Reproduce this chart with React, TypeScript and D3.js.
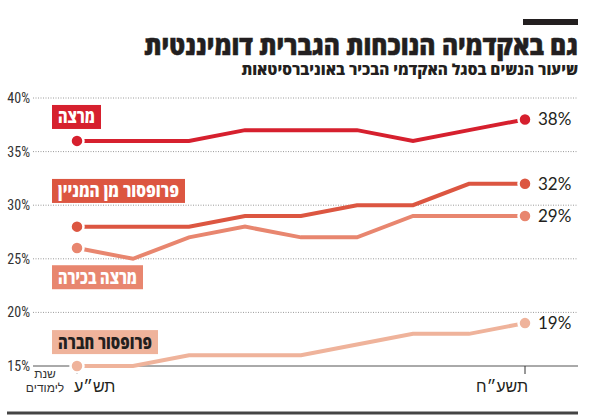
import { useEffect, useRef } from "react"
import * as d3 from "d3"

// שנים (תש"ע - תשע"ח)
const years = ["תש״ע", "תשע״א", "תשע״ב", "תשע״ג", "תשע״ד", "תשע״ה", "תשע״ו", "תשע״ז", "תשע״ח"]
const shownYears = ["תש״ע", "תשע״ח"]

const seriesNames = ["מרצה", "פרופסור מן המניין", "מרצה בכירה", "פרופסור חברה"]
const lecturer = [36, 36, 36, 37, 37, 37, 36, 37, 38]
const fullProfessor = [28, 28, 28, 29, 29, 30, 30, 32, 32]
const seniorLecturer = [26, 25, 27, 28, 27, 27, 29, 29, 29]
const associateProfessor = [15, 15, 16, 16, 16, 17, 18, 18, 19]
const seriesValues = [lecturer, fullProfessor, seniorLecturer, associateProfessor]

const yTicks = [15, 20, 25, 30, 35, 40]

const colors = ["#d6202e", "#dc5641", "#e8866f", "#efb39b"]
// מיקום תוויות המקרא (החלק העליון של התיבה, באחוזים על ציר y)
const labelBoxes = [
  { top: 39.35, w: 49 },
  { top: 32.45, w: 133 },
  { top: 24.4, w: 91 },
  { top: 18.35, w: 106 },
]

const title = "גם באקדמיה הנוכחות הגברית דומיננטית"
const subtitle = "שיעור הנשים בסגל האקדמי הבכיר באוניברסיטאות"

// דוחס טקסט לרוחב נתון
function fitWidth(t: any, ax: number, ay: number, width: number) {
  const node = t.node() as SVGTextElement | null
  if (!node) return
  const natural = node.getComputedTextLength()
  const sx = width / natural
  t.attr("transform", `translate(${ax},${ay}) scale(${sx},1)`)
}

export default function App() {
  const svgRef = useRef<SVGSVGElement>(null)

  useEffect(() => {
    document.body.style.margin = "0"
    if (!svgRef.current) return
    const svg = d3.select(svgRef.current)
    svg.selectAll("*").remove()

    const W = 590
    const H = 418
    const x = d3.scaleLinear().domain([0, years.length - 1]).range([77, 525])
    const y = d3.scaleLinear().domain([15, 40]).range([366, 98])
    const gridLeft = 33
    const gridRight = 578
    const heb = "'Open Sans', 'DejaVu Sans', sans-serif"
    const narrow = "'Liberation Sans Narrow', 'Roboto Condensed', Roboto, sans-serif"

    svg.append("rect").attr("width", W).attr("height", H).attr("fill", "#fff")

    // כותרת
    svg.append("rect").attr("x", 523).attr("y", 19).attr("width", 55).attr("height", 6).attr("fill", "#231f20")
    const titleText = svg
      .append("text")
      .attr("text-anchor", "end")
      .style("font-family", heb)
      .style("font-weight", "800")
      .style("font-size", "27px")
      .attr("fill", "#231f20")
      .attr("stroke", "#231f20")
      .attr("stroke-width", 0.5)
      .text(title)
    fitWidth(titleText, gridRight, 55, 434)
    const subText = svg
      .append("text")
      .attr("text-anchor", "end")
      .style("font-family", heb)
      .style("font-weight", "800")
      .style("font-size", "15px")
      .attr("fill", "#231f20")
      .text(subtitle)
    fitWidth(subText, gridRight, 75, 337)

    // קווי רשת
    yTicks.forEach((t) => {
      svg
        .append("line")
        .attr("x1", gridLeft)
        .attr("x2", gridRight)
        .attr("y1", y(t))
        .attr("y2", y(t))
        .attr("stroke", t === 15 ? "#555" : "#9a9a9a")
        .attr("stroke-width", 1)
        .attr("stroke-dasharray", t === 15 ? null : "1,1.5")
      svg
        .append("text")
        .attr("x", 30)
        .attr("y", y(t) + 5)
        .attr("text-anchor", "end")
        .style("font-family", narrow)
        .style("font-size", "14px")
        .attr("fill", "#333")
        .text(`${t}%`)
    })

    // ציר x
    shownYears.forEach((yr) => {
      const i = years.indexOf(yr)
      svg
        .append("line")
        .attr("x1", x(i))
        .attr("x2", x(i))
        .attr("y1", y(15))
        .attr("y2", y(15) + 8)
        .attr("stroke", "#333")
      svg
        .append("text")
        .attr("x", i === 0 ? x(i) - 3 : x(i) + 3)
        .attr("y", 392)
        .attr("text-anchor", i === 0 ? "start" : "end")
        .style("font-family", narrow)
        .style("font-size", "16px")
        .attr("fill", "#231f20")
        .text(yr)
    })
    ;["שנת", "לימודים"].forEach((s, i) => {
      svg
        .append("text")
        .attr("x", 45)
        .attr("y", 378 + i * 14)
        .attr("text-anchor", "middle")
        .style("font-family", narrow)
        .style("font-size", "12px")
        .attr("fill", "#333")
        .text(s)
    })

    svg.append("line").attr("x1", 7).attr("x2", gridRight).attr("y1", 413).attr("y2", 413).attr("stroke", "#444").attr("stroke-width", 3)

    const line = d3
      .line<number>()
      .x((_, i) => x(i))
      .y((d) => y(d))

    // סדרות מהתחתונה לעליונה
    for (let s = seriesValues.length - 1; s >= 0; s--) {
      const vals = seriesValues[s]
      svg
        .append("path")
        .datum(vals)
        .attr("fill", "none")
        .attr("stroke", colors[s])
        .attr("stroke-width", 4)
        .attr("stroke-linejoin", "miter")
        .attr("d", line)
      ;[0, vals.length - 1].forEach((i) => {
        svg
          .append("circle")
          .attr("cx", x(i))
          .attr("cy", y(vals[i]))
          .attr("r", 6.5)
          .attr("fill", colors[s])
          .attr("stroke", "#fff")
          .attr("stroke-width", 2.5)
      })
      svg
        .append("text")
        .attr("x", x(vals.length - 1) + 13)
        .attr("y", y(vals[vals.length - 1]) + 6)
        .style("font-family", "Lato, 'Open Sans', sans-serif")
        .style("font-size", "17px")
        .attr("fill", "#231f20")
        .text(`${vals[vals.length - 1]}%`)

      // תווית
      const box = labelBoxes[s]
      const top = y(box.top)
      svg.append("rect").attr("x", 52).attr("y", top).attr("width", box.w).attr("height", 24).attr("fill", colors[s])
      const lbl = svg
        .append("text")
        .attr("text-anchor", "middle")
        .style("font-family", heb)
        .style("font-weight", "800")
        .style("font-size", "18px")
        .attr("fill", s === 3 ? "#231f20" : "#fff")
        .text(seriesNames[s])
      fitWidth(lbl, 52 + box.w / 2, top + 18.5, box.w - 12)
    }
  }, [])

  return <svg ref={svgRef} width={590} height={418} style={{ display: "block" }} />
}
